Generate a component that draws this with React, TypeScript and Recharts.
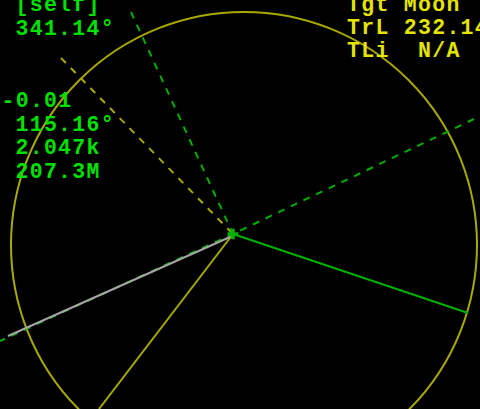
import React from "react";
import { ComposedChart, XAxis, YAxis, Scatter, ReferenceDot } from "recharts";

// Screen-space data (x right, y down), 480 x 409 display
const vesselPos = [{ x: 233, y: 234 }];
const orbitCentre = { x: 244, y: 245 };
const orbitRadius = 233;
const planeSolid = [{ x: 233, y: 234 }, { x: 468, y: 313 }];
const planeDashed = [{ x: 474, y: 119 }, { x: 233, y: 234 }, { x: 0, y: 341 }];
const normalDashed = [{ x: 131, y: 12 }, { x: 233, y: 234 }];
const targetSolid = [{ x: 233, y: 234 }, { x: 99, y: 409 }];
const targetDashed = [{ x: 61, y: 58 }, { x: 233, y: 234 }];
const velocityLine = [{ x: 8, y: 336 }, { x: 230, y: 237 }];

const leftTopLabels = ["[self]", "341.14°"];
const leftLowLabels = ["-0.01", "115.16°", "2.047k", "207.3M"];
const rightLabels = ["Tgt Moon", "TrL 232.14°", "TLi  N/A"];

const W = 480;
const H = 409;
const GREEN_TXT = "#00e000";
const YELLOW_TXT = "#e4e400";
const GREEN = "#00b000";
const YELLOW = "#a8a800";
const GRAY = "#a4a4a4";
const FONT = "'Liberation Mono', 'DejaVu Sans Mono', monospace";

const noShape = () => <g />;

export default function App() {
  React.useEffect(() => {
    document.body.style.margin = "0";
    document.body.style.background = "#000";
  }, []);
  const textStyle: React.CSSProperties = { whiteSpace: "pre" };
  return (
    <div style={{ position: "relative", width: W, height: H, background: "#000", overflow: "hidden" }}>
      <ComposedChart width={W} height={H} margin={{ top: 0, right: 0, bottom: 0, left: 0 }}>
        <XAxis type="number" dataKey="x" domain={[0, W]} hide allowDataOverflow />
        <YAxis type="number" dataKey="y" domain={[0, H]} reversed hide allowDataOverflow width={0} />
        <ReferenceDot
          x={orbitCentre.x}
          y={orbitCentre.y}
          r={orbitRadius}
          fill="none"
          stroke={YELLOW}
          strokeWidth={2}
          ifOverflow="visible"
        />
        <Scatter data={targetDashed} line={{ stroke: YELLOW, strokeWidth: 2, strokeDasharray: "7 7" }} shape={noShape} isAnimationActive={false} />
        <Scatter data={targetSolid} line={{ stroke: YELLOW, strokeWidth: 2 }} shape={noShape} isAnimationActive={false} />
        <Scatter data={normalDashed} line={{ stroke: GREEN, strokeWidth: 2, strokeDasharray: "7 7" }} shape={noShape} isAnimationActive={false} />
        <Scatter data={planeDashed} line={{ stroke: GREEN, strokeWidth: 2, strokeDasharray: "7 7" }} shape={noShape} isAnimationActive={false} />
        <Scatter data={velocityLine} line={{ stroke: GRAY, strokeWidth: 2 }} shape={noShape} isAnimationActive={false} />
        <Scatter data={planeSolid} line={{ stroke: GREEN, strokeWidth: 2 }} shape={noShape} isAnimationActive={false} />
        <Scatter data={vesselPos} fill={GREEN} shape="cross" isAnimationActive={false} />
      </ComposedChart>
      <svg width={W} height={H} style={{ position: "absolute", left: 0, top: 0 }}>
        <g fontFamily={FONT} fontSize={21.5} letterSpacing={1.3} fontWeight="bold" style={textStyle}>
          {leftTopLabels.map((t, i) => (
            <text key={"lt" + i} x={15.5} y={11 + i * 24} fill={GREEN_TXT} style={textStyle}>{t}</text>
          ))}
          {leftLowLabels.map((t, i) => (
            <text key={"ll" + i} x={i === 0 ? 1.5 : 15.5} y={107 + i * 23.7} fill={GREEN_TXT} style={textStyle}>{t}</text>
          ))}
          {rightLabels.map((t, i) => (
            <text key={"r" + i} x={347} y={11 + i * 23} fill={YELLOW_TXT} style={textStyle}>{t}</text>
          ))}
        </g>
      </svg>
    </div>
  );
}
